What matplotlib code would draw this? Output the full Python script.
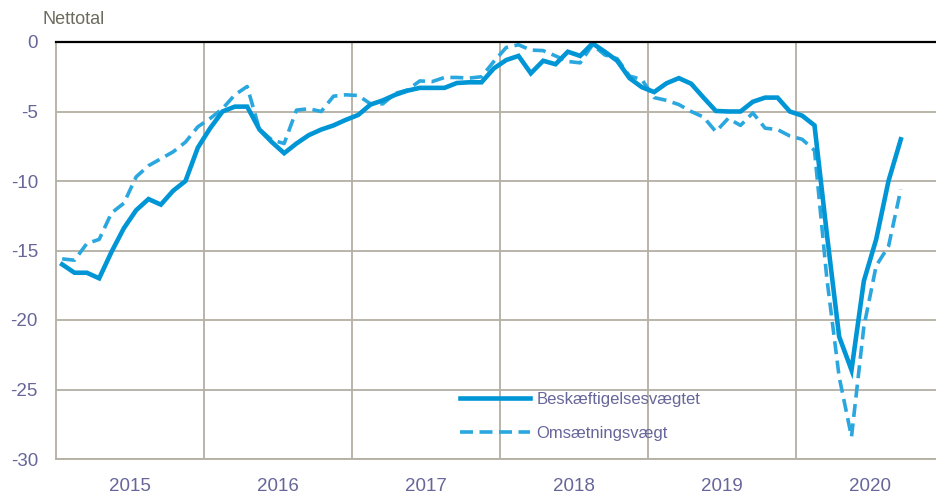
import numpy as np
import matplotlib.pyplot as plt

plt.rcParams['font.family'] = ['Liberation Sans', 'DejaVu Sans']
plt.rcParams['axes.unicode_minus'] = False

# monthly values, Jan 2015 - Sep 2020
years = ['2015', '2016', '2017', '2018', '2019', '2020']

beskaeftigelse = [
    -16.0, -16.6, -16.6, -17.0, -15.1, -13.4, -12.1, -11.3, -11.7, -10.7, -10.0, -7.6,
    -6.2, -5.0, -4.65, -4.65, -6.3, -7.2, -8.0, -7.3, -6.7, -6.3, -6.0, -5.6,
    -5.25, -4.5, -4.2, -3.8, -3.5, -3.3, -3.3, -3.3, -2.95, -2.9, -2.9, -1.9,
    -1.3, -1.0, -2.25, -1.35, -1.6, -0.7, -1.0, -0.1, -0.7, -1.35, -2.6, -3.25,
    -3.6, -2.97, -2.6, -3.0, -4.0, -4.96, -5.0, -5.0, -4.3, -4.0, -4.0, -5.0,
    -5.3, -6.0, -13.8, -21.2, -23.6, -17.2, -14.2, -10.0, -7.0,
]

omsaetning = [
    -15.6, -15.7, -14.5, -14.2, -12.3, -11.6, -9.7, -8.9, -8.4, -7.9, -7.2, -6.1,
    -5.5, -4.8, -3.8, -3.2, -6.3, -7.05, -7.3, -4.9, -4.8, -5.0, -3.9, -3.8,
    -3.85, -4.45, -4.45, -3.7, -3.45, -2.8, -2.85, -2.55, -2.55, -2.6, -2.5, -1.4,
    -0.4, -0.2, -0.58, -0.62, -1.0, -1.4, -1.5, -0.2, -0.93, -1.2, -2.45, -2.7,
    -4.0, -4.2, -4.5, -5.0, -5.4, -6.45, -5.5, -6.0, -5.1, -6.2, -6.3, -6.76,
    -7.0, -7.8, -17.0, -24.1, -28.4, -20.5, -16.1, -14.7, -10.6,
]

label_col = '#66669a'
grid_col = '#b3afa3'

x = 2015 + (np.arange(len(beskaeftigelse)) + 0.5) / 12

fig = plt.figure(figsize=(9.36, 4.95), dpi=100)
ax = fig.add_axes([56 / 936, 1 - 459 / 495, 880 / 936, 417 / 495])

ax.plot(x, beskaeftigelse, color='#0096d6', lw=3.3, label='Beskæftigelsesvægtet',
        solid_joinstyle='miter', zorder=3)
ax.plot(x, omsaetning, color='#2aa7df', lw=2.6, ls=(0, (3.6, 1.8)),
        label='Omsætningsvægt', zorder=2)

ax.set_xlim(2015, 2015 + 880 / 148)
ax.set_ylim(-30, 0)

ax.set_xticks(range(2016, 2021))
ax.set_xticks([int(y) + 0.5 for y in years], minor=True)
ax.set_xticklabels(years, minor=True)
ax.tick_params(axis='x', which='major', length=0, labelbottom=False)
ax.tick_params(axis='x', which='minor', length=0, pad=14, labelsize=13.5, labelcolor=label_col)
ax.set_yticks(range(-30, 1, 5))
ax.tick_params(axis='y', length=0, pad=13, labelsize=13.5, labelcolor=label_col)

ax.grid(True, which='major', color=grid_col, lw=1.3)
ax.set_axisbelow(True)
for s in ['right', 'top']:
    ax.spines[s].set_visible(False)
ax.spines['left'].set_color(grid_col)
ax.spines['left'].set_linewidth(1.3)
ax.spines['bottom'].set_color(grid_col)
ax.spines['bottom'].set_linewidth(1.3)
ax.axhline(0, color='black', lw=1.6, zorder=4, clip_on=False)

fig.text(42 / 936, 1 - 20 / 495, 'Nettotal', fontsize=13, color='#6c6c5e', va='center', ha='left')

leg = ax.legend(loc='upper left', bbox_to_anchor=((460 - 56) / 880, (459 - 392) / 417),
                frameon=False, fontsize=12, handlelength=4.2, handletextpad=0.4,
                labelspacing=1.15, borderpad=0, borderaxespad=0)
for t in leg.get_texts():
    t.set_color(label_col)

fig.savefig('out.png', dpi=100)
